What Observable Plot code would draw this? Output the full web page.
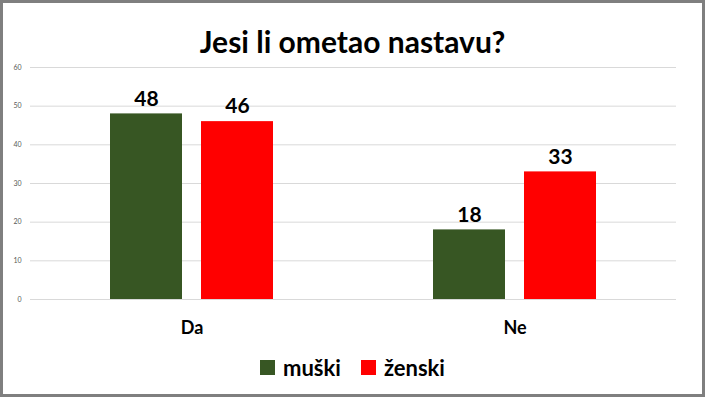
<!DOCTYPE html>
<html>
<head>
<meta charset="utf-8">
<script src="https://cdn.jsdelivr.net/npm/d3@7"></script>
<script src="https://cdn.jsdelivr.net/npm/@observablehq/plot@0.6"></script>
<style>
  html, body { margin: 0; padding: 0; background: #fff; }
  #frame {
    position: relative; width: 705px; height: 397px; box-sizing: border-box;
    border: 3px solid #7f7f7f; background: #fff; overflow: hidden;
    font-family: Lato, "Open Sans", sans-serif;
  }
  #title {
    position: absolute; left: 0; right: 0; top: 21px; text-align: center;
    font-size: 30px; font-weight: bold; color: #000; line-height: 34px;
  }
  #chart { position: absolute; left: 0; top: 0; }
  #chart svg { font-family: Lato, "Open Sans", sans-serif; }
  #chart g[aria-label^="fx-axis"] text { font-size: 18px; font-weight: bold; fill: #000; }
  #chart g[aria-label^="y-axis"] text { font-size: 7px; fill: #595959; }
  #legend {
    position: absolute; left: 0; right: 0; top: 351px; display: flex; justify-content: center;
    align-items: center; font-size: 22px; font-weight: bold; color: #000;
  }
  .item { display: flex; align-items: center; margin: 0 10px; }
  .sw { width: 15px; height: 15px; margin-right: 8px; box-sizing: border-box; }
</style>
</head>
<body>
<div id="frame">
  <div id="title"></div>
  <div id="chart"></div>
  <div id="legend"></div>
</div>
<script>
const titleText = "Jesi li ometao nastavu?";
const categories = ["Da", "Ne"];
const series = ["muški", "ženski"];
const muski = [48, 18];
const zenski = [46, 33];
const yTicks = [0, 10, 20, 30, 40, 50, 60];
const colors = ["#375623", "#ff0000"];

const data = categories.flatMap((c, i) => [
  {cat: c, spol: series[0], value: muski[i]},
  {cat: c, spol: series[1], value: zenski[i]}
]);

document.getElementById("title").textContent = titleText;

const chart = Plot.plot({
  width: 699,
  height: 345,
  marginTop: 64,
  marginBottom: 49,
  marginLeft: 26,
  marginRight: 26,
  fx: {domain: categories, padding: 0, label: null, axis: "bottom", tickSize: 0, tickPadding: 22},
  x: {domain: series, axis: null, paddingInner: 0.2065, paddingOuter: 0.861},
  y: {domain: [0, 60], ticks: yTicks, label: null, tickSize: 0, tickPadding: 9},
  color: {domain: series, range: colors},
  marks: [
    Plot.ruleY(yTicks, {stroke: "#d9d9d9", strokeWidth: 1}),
    Plot.barY(data, {fx: "cat", x: "spol", y: "value", fill: "spol"}),
    Plot.text(data, {fx: "cat", x: "spol", y: "value", text: "value", dy: -15,
      fontSize: 21, fontWeight: "bold", fill: "#000"})
  ]
});
document.getElementById("chart").appendChild(chart);

const legend = document.getElementById("legend");
series.forEach((s, i) => {
  const item = document.createElement("div");
  item.className = "item";
  const sw = document.createElement("div");
  sw.className = "sw";
  sw.style.background = colors[i];
  const t = document.createElement("span");
  t.textContent = s;
  item.appendChild(sw);
  item.appendChild(t);
  legend.appendChild(item);
});
</script>
</body>
</html>
